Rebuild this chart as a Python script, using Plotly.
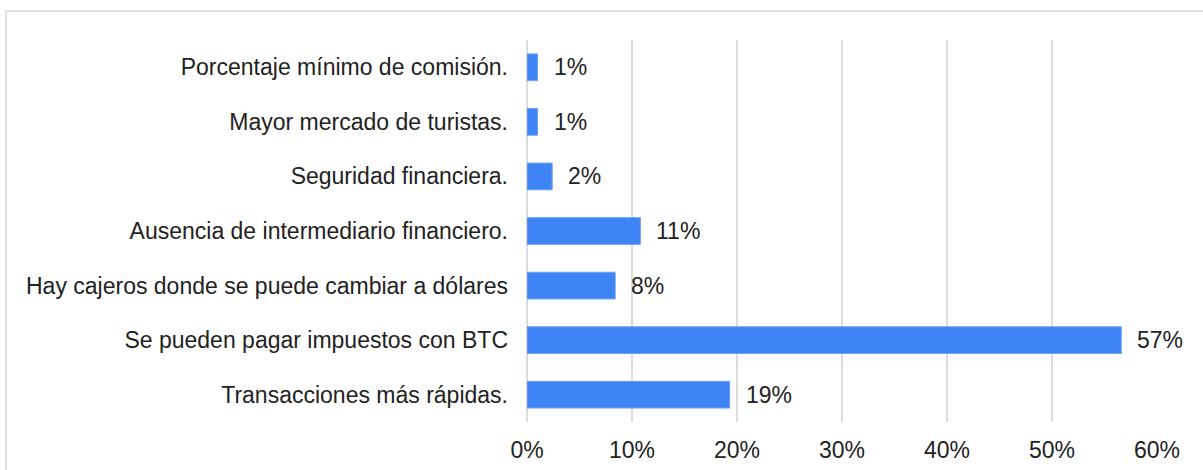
import plotly.graph_objects as go

categories = [
    "Porcentaje mínimo de comisión.",
    "Mayor mercado de turistas.",
    "Seguridad financiera.",
    "Ausencia de intermediario financiero.",
    "Hay cajeros donde se puede cambiar a dólares",
    "Se pueden pagar impuestos con BTC",
    "Transacciones más rápidas.",
]
values = [1.0, 1.0, 2.4, 10.8, 8.4, 56.6, 19.3]
tick_vals = [0, 10, 20, 30, 40, 50, 60]
tick_text = ["0%", "10%", "20%", "30%", "40%", "50%", "60%"]

W, H = 1203, 470
ML, MR, MT, MB = 527, 46, 40, 48
FONT = "Liberation Sans, Arial, sans-serif"
FS = 23

fig = go.Figure()
fig.add_trace(go.Bar(
    x=values, y=categories, orientation="h",
    marker=dict(color="#3f84f4", line=dict(color="#6aa2f8", width=1)),
    width=0.49, hoverinfo="x+y",
))

for v, c in zip(values, categories):
    fig.add_annotation(x=v, y=c, text=f"{round(v):d}%", showarrow=False,
                       xanchor="left", xshift=14, yshift=0,
                       font=dict(family=FONT, size=FS, color="#222222"))

pw = W - ML - MR
ph = H - MT - MB
fig.add_shape(type="rect", xref="paper", yref="paper",
              x0=(6 - ML) / pw, x1=(W + 10 - ML) / pw,
              y0=(H - MB - (H + 10)) / ph, y1=(H - MB - 11) / ph,
              line=dict(color="#dedede", width=2), fillcolor="rgba(0,0,0,0)", layer="below")

fig.update_layout(
    width=W, height=H,
    margin=dict(l=ML, r=MR, t=MT, b=MB, pad=0, autoexpand=False),
    paper_bgcolor="white", plot_bgcolor="white",
    font=dict(family=FONT, size=FS, color="#222222"),
    showlegend=False,
    xaxis=dict(range=[0, 60], tickvals=tick_vals, ticktext=tick_text,
               showgrid=True, gridcolor="#dcdcdc", gridwidth=2,
               zeroline=True, zerolinecolor="#dcdcdc", zerolinewidth=2,
               showline=False, ticks="", ticklabelstandoff=12, automargin=False,
               tickfont=dict(family=FONT, size=FS, color="#222222")),
    yaxis=dict(categoryorder="array", categoryarray=categories[::-1],
               showgrid=False, zeroline=False, showline=False, ticks="",
               ticklabelstandoff=18, automargin=False,
               tickfont=dict(family=FONT, size=FS, color="#222222")),
)

fig.write_html("out.html", config={"displayModeBar": False},
               post_script="document.body.style.margin='0';document.body.style.overflow='hidden';")
